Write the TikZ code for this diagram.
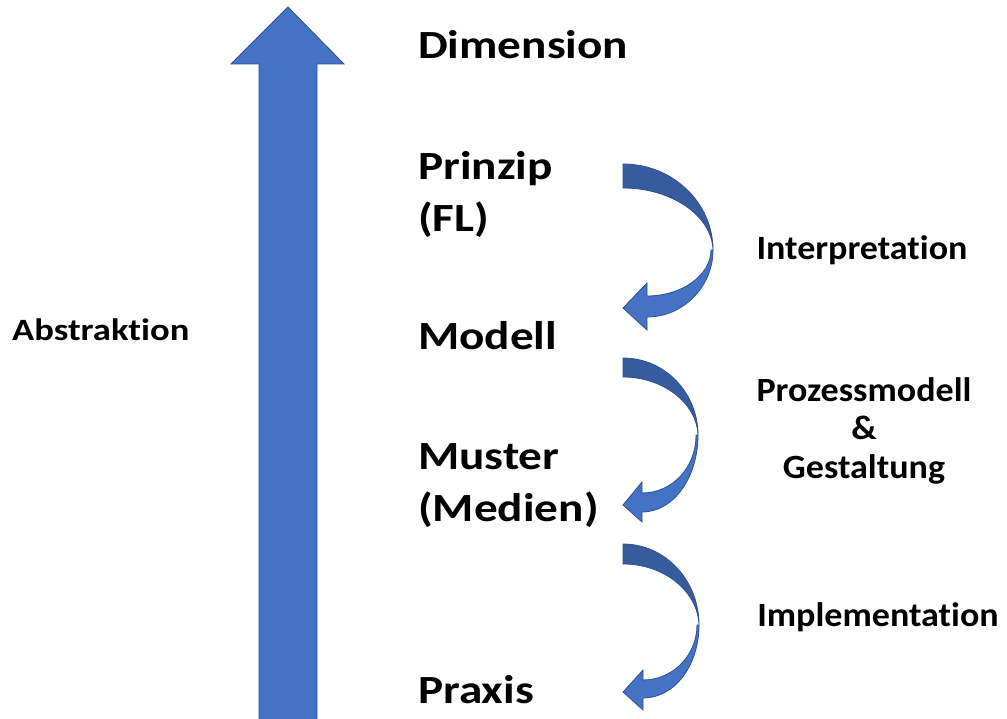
\documentclass[tikz,border=0pt]{standalone}
\usepackage{fontspec}
\setmainfont{Carlito}[Ligatures=NoCommon]
\begin{document}
\begin{tikzpicture}[x=1pt,y=-1pt,
  level/.style={anchor=base west,inner sep=0pt,xscale=1.18,transform shape,font=\fontsize{40}{48}\selectfont\bfseries},
  side/.style={anchor=base,inner sep=0pt,align=center,xscale=1.06,transform shape,font=\fontsize{34}{38.5}\selectfont\bfseries},
  bigarrow/.style={fill=arrowblue,draw=arrowedge,line width=0.8pt,line join=miter},
  bandback/.style={fill=arrowdark,draw=arrowedge,line width=0.8pt},
  bandfront/.style={fill=arrowblue,draw=arrowedge,line width=0.8pt,line join=miter}]
\definecolor{arrowblue}{HTML}{4472C4}
\definecolor{arrowdark}{HTML}{375C9E}
\definecolor{arrowedge}{HTML}{2F528F}
\useasboundingbox (0,0) rectangle (1007,719);

% upward abstraction arrow
\draw[bigarrow] (259,720) -- (259,64) -- (231,64) -- (288,7) -- (344,64) -- (317,64) -- (317,720);

% level labels
\node[level] (dim) at (418,59) {Dimension};
\node[level] (prin) at (418,180) {Prinzip};
\node[level] (fl) at (418,232) {(FL)};
\node[level] (mod) at (418,350) {Modell};
\node[level] (must) at (418,469) {Muster};
\node[level] (med) at (418,521) {(Medien)};
\node[level] (prax) at (418,703) {Praxis};

\node[anchor=base west,inner sep=0pt,xscale=1.18,transform shape,font=\fontsize{31}{36}\selectfont\bfseries] (abs) at (12,341) {Abstraktion};

% transition labels
\node[side] (interp) at (862,260) {Interpretation};
\node[side] (proz) at (864,478) {Prozessmodell\\\&\\Gestaltung};
\node[side] (impl) at (878,626) {Implementation};

% curved arrow: Prinzip -> Modell
\fill[bandback] (623,164) .. controls (673,164) and (713,203) .. (713,250)
  .. controls (712,216) and (672,188) .. (623,188) -- cycle;
\fill[bandfront] (713,250) .. controls (713,287) and (683,317) .. (647,317)
  -- (647,330) -- (623,308) -- (647,283) -- (647,296)
  .. controls (682,296) and (711,275) .. (711,250) -- cycle;

% curved arrow: Modell -> Muster
\fill[bandback] (623,358) .. controls (665,358) and (698,393) .. (698,435)
  .. controls (697,404) and (664,377) .. (623,377) -- cycle;
\fill[bandfront] (698,435) .. controls (698,477) and (674,512) .. (642,512)
  -- (642,522) -- (623,505) -- (642,482) -- (642,493)
  .. controls (672,493) and (696,468) .. (696,435) -- cycle;

% curved arrow: Muster -> Praxis
\fill[bandback] (623,544) .. controls (665,544) and (699,580) .. (699,625)
  .. controls (698,592) and (665,564) .. (623,564) -- cycle;
\fill[bandfront] (699,625) .. controls (699,665) and (675,698) .. (643,698)
  -- (643,710) -- (623,692) -- (643,670) -- (643,680)
  .. controls (673,680) and (697,655) .. (697,625) -- cycle;
\end{tikzpicture}
\end{document}
